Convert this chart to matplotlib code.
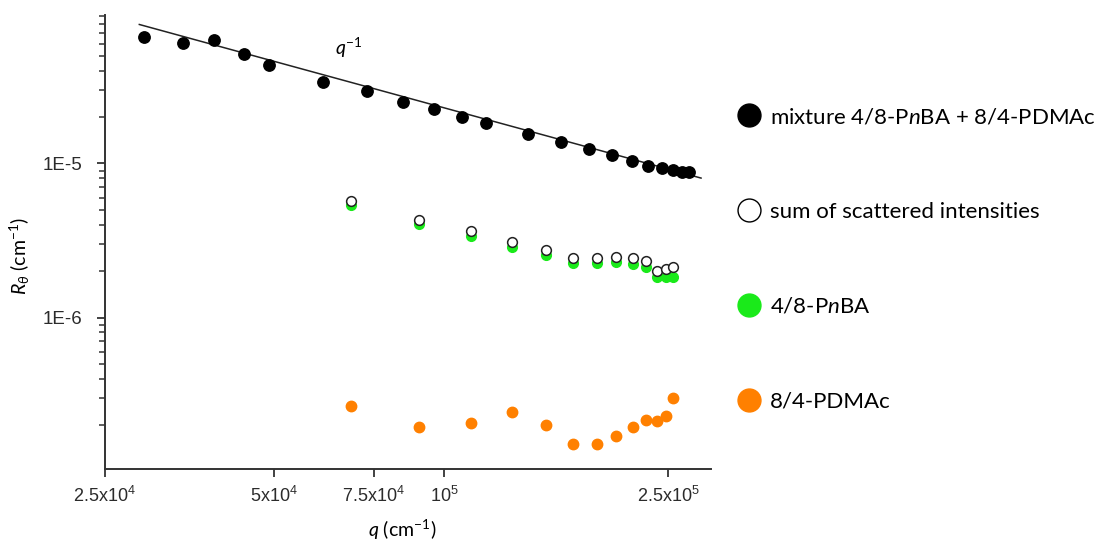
import matplotlib
matplotlib.use('Agg')
import matplotlib.pyplot as plt
from matplotlib.lines import Line2D
import numpy as np

plt.rcParams['mathtext.fontset'] = 'custom'
plt.rcParams['mathtext.rm'] = 'Lato'
plt.rcParams['mathtext.it'] = 'Lato:italic'
plt.rcParams['mathtext.default'] = 'regular'

# mixture 4/8-PnBA + 8/4-PDMAc
q_mix = [2.94e4, 3.44e4, 3.91e4, 4.41e4, 4.89e4, 6.10e4, 7.30e4, 8.45e4, 9.62e4,
         1.076e5, 1.188e5, 1.409e5, 1.614e5, 1.810e5, 1.990e5, 2.156e5, 2.301e5,
         2.44e5, 2.548e5, 2.643e5, 2.725e5]
r_mix = [6.64e-5, 6.07e-5, 6.32e-5, 5.10e-5, 4.35e-5, 3.39e-5, 2.95e-5, 2.51e-5, 2.25e-5,
         2.00e-5, 1.82e-5, 1.557e-5, 1.381e-5, 1.238e-5, 1.137e-5, 1.04e-5, 9.7e-6,
         9.28e-6, 9.05e-6, 8.82e-6, 8.78e-6]

# single components and their sum share the same q values
q_comp = [6.84e4, 9.04e4, 1.116e5, 1.321e5, 1.517e5, 1.697e5, 1.867e5, 2.021e5,
          2.167e5, 2.285e5, 2.387e5, 2.477e5, 2.555e5]
r_sum = [5.69e-6, 4.28e-6, 3.65e-6, 3.08e-6, 2.735e-6, 2.45e-6, 2.45e-6, 2.47e-6,
         2.42e-6, 2.33e-6, 2.01e-6, 2.07e-6, 2.13e-6]
r_pnba = [5.36e-6, 4.04e-6, 3.39e-6, 2.86e-6, 2.54e-6, 2.275e-6, 2.275e-6, 2.30e-6,
          2.24e-6, 2.13e-6, 1.83e-6, 1.83e-6, 1.84e-6]
r_pdmac = [2.655e-7, 1.949e-7, 2.068e-7, 2.427e-7, 2.02e-7, 1.51e-7, 1.51e-7, 1.70e-7,
           1.96e-7, 2.153e-7, 2.12e-7, 2.31e-7, 3.02e-7]

# q^-1 guide line
slope_amp = 2.30
q_line = [2.88e4, 2.86e5]

xticks = [2.5e4, 5e4, 7.5e4, 1e5, 2.5e5]
xticklabels = ['2.5x10$^{4}$', '5x10$^{4}$', '7.5x10$^{4}$', '10$^{5}$', '2.5x10$^{5}$']
yticks = [1e-6, 1e-5]
yticklabels = ['1E-6', '1E-5']

legend_labels = ['mixture 4/8-P$\\mathit{n}$BA + 8/4-PDMAc',
                 'sum of scattered intensities',
                 '4/8-P$\\mathit{n}$BA',
                 '8/4-PDMAc']

green = '#1aea1a'
orange = '#ff8000'
axcol = '#333333'

fig = plt.figure(figsize=(10.94, 5.44), dpi=100)
ax = fig.add_axes([0.0957, 0.1379, 0.650 - 0.0957, 0.9724 - 0.1379])
ax.set_xscale('log')
ax.set_yscale('log')

ql = np.array(q_line)
ax.plot(ql, slope_amp / ql, color='#222222', lw=1.1, zorder=2)
ax.plot(q_mix, r_mix, 'o', color='black', ms=8.2, mec='black', zorder=3)
ax.plot(q_comp, r_pnba, 'o', color=green, ms=7, mec=green, zorder=3)
ax.plot(q_comp, r_sum, 'o', mfc='white', mec='#222222', mew=1.1, ms=7, zorder=4)
ax.plot(q_comp, r_pdmac, 'o', color=orange, ms=7.5, mec=orange, zorder=3)

ax.set_xlim(2.5e4, 2.98e5)
ax.set_ylim(1.04e-7, 9.2e-5)

ax.set_xticks(xticks)
ax.set_xticklabels(xticklabels, family='Liberation Sans', fontsize=13, color='#2b2b2b')
ax.xaxis.set_minor_locator(matplotlib.ticker.NullLocator())
ax.set_yticks(yticks)
ax.set_yticklabels(yticklabels, family='Liberation Sans', fontsize=13.5, color='#2b2b2b')
ax.yaxis.set_minor_locator(matplotlib.ticker.LogLocator(base=10, subs=np.arange(2, 10)))
ax.yaxis.set_minor_formatter(matplotlib.ticker.NullFormatter())

ax.tick_params(axis='both', which='major', direction='out', length=6, width=1.3,
               color=axcol, pad=6)
ax.tick_params(axis='y', which='major', pad=10)
ax.tick_params(axis='y', which='minor', direction='out', length=4, width=1.1, color=axcol)

for side in ['top', 'right']:
    ax.spines[side].set_visible(False)
for side in ['left', 'bottom']:
    ax.spines[side].set_color(axcol)
    ax.spines[side].set_linewidth(1.4)

ax.set_xlabel('$\\mathit{q}$ (cm$^{-1}$)', family='Lato', fontsize=14, labelpad=9)
ax.xaxis.label.set_x(0.49)
ax.set_ylabel('$\\mathit{R}_{\\mathit{θ}}$ (cm$^{-1}$)', family='Lato', fontsize=14, labelpad=8)
ax.yaxis.label.set_y(0.468)

ax.annotate('$\\mathit{q}^{-1}$', xy=(0.38, 0.912), xycoords='axes fraction',
            family='Lato', fontsize=14)

handles = [
    Line2D([], [], ls='none', marker='o', ms=16.5, mfc='black', mec='black'),
    Line2D([], [], ls='none', marker='o', ms=16.5, mfc='white', mec='black', mew=1),
    Line2D([], [], ls='none', marker='o', ms=16.5, mfc=green, mec=green),
    Line2D([], [], ls='none', marker='o', ms=16.5, mfc=orange, mec=orange),
]
fig.legend(handles, legend_labels, loc='upper left', bbox_to_anchor=(0.656, 0.84),
           frameon=False, prop={'family': 'Lato', 'size': 16},
           handlelength=1.0, handletextpad=0.45, labelspacing=3.37)

fig.savefig('out.png', dpi=100)
